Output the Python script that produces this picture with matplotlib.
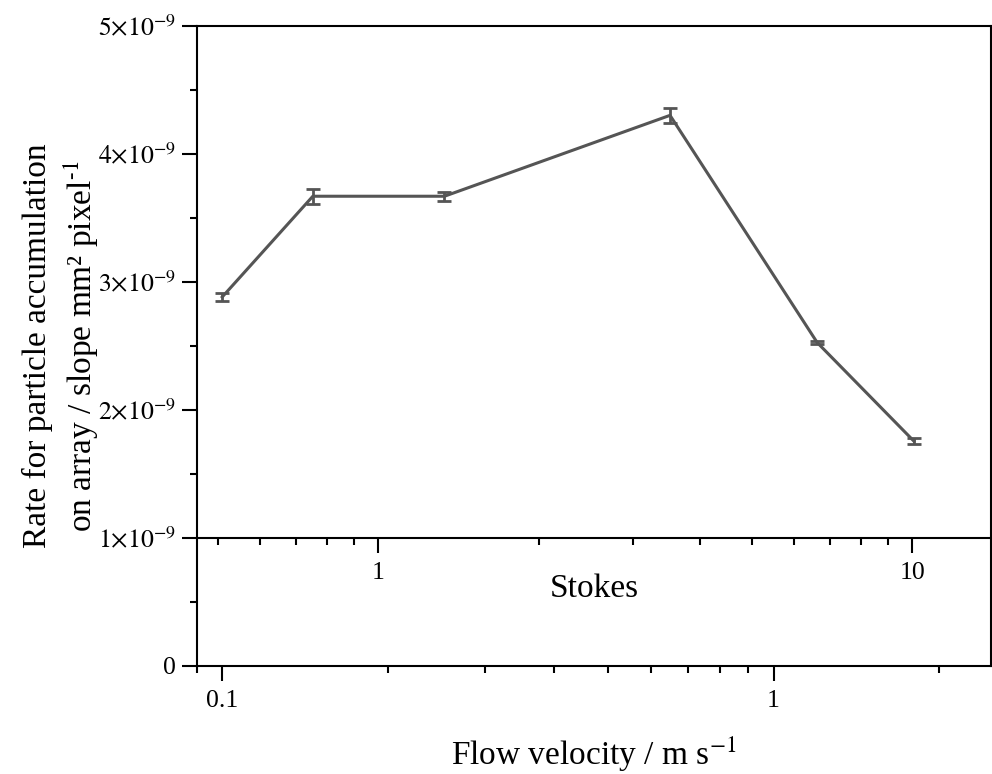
import matplotlib
matplotlib.use("Agg")
import matplotlib.pyplot as plt
from matplotlib.ticker import FixedLocator, FuncFormatter, LogLocator, MultipleLocator, NullFormatter
import numpy as np

plt.rcParams['font.family'] = ['Liberation Serif', 'DejaVu Serif']
plt.rcParams['mathtext.fontset'] = 'stix'

# data
velocity = [0.1, 0.146, 0.253, 0.649, 1.2, 1.796]
rate = [2.883e-9, 3.67e-9, 3.67e-9, 4.302e-9, 2.527e-9, 1.758e-9]
rate_err = [0.03e-9, 0.058e-9, 0.036e-9, 0.06e-9, 0.012e-9, 0.02e-9]

ytick_vals = [0, 1e-9, 2e-9, 3e-9, 4e-9, 5e-9]
vel_ticks = [0.1, 1]
stokes_ticks = [1, 10]

fig = plt.figure(figsize=(9.92, 7.74), dpi=100)
ax = fig.add_axes([197 / 992, 1 - 666 / 774, 794 / 992, 640 / 774])

ax.errorbar(velocity, rate, yerr=rate_err, color='#555555', lw=2.2,
            elinewidth=2.0, capsize=5, capthick=2.0)

ax.set_xscale('log')
ax.set_xlim(0.09, 2.48)
ax.set_ylim(0, 5e-9)

ax.set_xticks(vel_ticks)
ax.set_xticklabels(['0.1', '1'])
ax.xaxis.set_minor_locator(LogLocator(base=10, subs=np.arange(2, 10)))
ax.xaxis.set_minor_formatter(NullFormatter())

ax.yaxis.set_major_locator(FixedLocator(ytick_vals))
ax.yaxis.set_minor_locator(MultipleLocator(0.5e-9))


def yfmt(v, pos):
    if v == 0:
        return '0'
    return r'$%d{\times}10^{-9}$' % round(v / 1e-9)


ax.yaxis.set_major_formatter(FuncFormatter(yfmt))

for s in ax.spines.values():
    s.set_linewidth(1.5)
ax.tick_params(which='major', direction='out', length=11, width=1.5, labelsize=18.5, pad=6)
ax.tick_params(which='minor', direction='out', length=5, width=1.5)
ax.tick_params(axis='y', which='major', pad=4)

ax.set_xlabel(r'Flow velocity / m s$^{-1}$', fontsize=24, labelpad=17)
ax.set_ylabel('Rate for particle accumulation\non array / slope mm² pixel$^{\\text{-1}}$',
              fontsize=24, labelpad=-2, linespacing=1.3)

# Stokes axis sitting on the 1e-9 line
ax2 = ax.twiny()
ax2.set_xscale('log')
ax2.set_xlim(0.4575, 14.04)
for side in ['top', 'left', 'right']:
    ax2.spines[side].set_visible(False)
ax2.spines['bottom'].set_position(('axes', 0.2))
ax2.spines['bottom'].set_linewidth(1.5)
ax2.xaxis.set_ticks_position('bottom')
ax2.xaxis.set_label_position('bottom')
ax2.set_xticks(stokes_ticks)
ax2.set_xticklabels(['1', '10'])
ax2.xaxis.set_minor_locator(LogLocator(base=10, subs=np.arange(2, 10)))
ax2.xaxis.set_minor_formatter(NullFormatter())
ax2.tick_params(which='major', direction='out', length=11, width=1.5, labelsize=18.5, pad=6)
ax2.tick_params(which='minor', direction='out', length=5, width=1.5)
ax2.set_xlabel('Stokes', fontsize=24, labelpad=-7)

fig.savefig('out.png', dpi=100)
